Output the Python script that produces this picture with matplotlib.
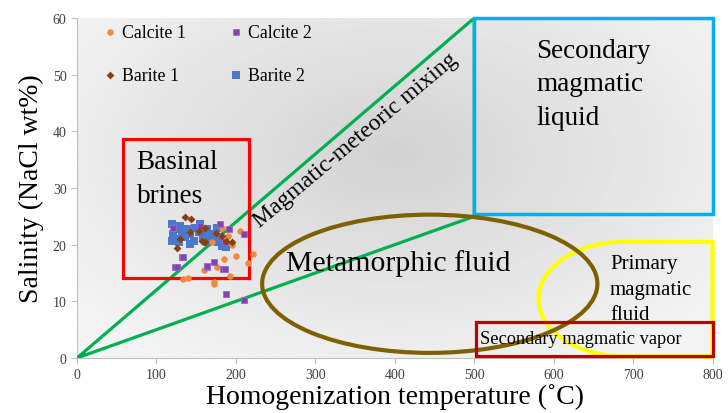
import numpy as np
import matplotlib
matplotlib.use("Agg")
import matplotlib.pyplot as plt
from matplotlib.patches import Rectangle, Ellipse, PathPatch
from matplotlib.path import Path

plt.rcParams['font.family'] = ['Liberation Serif', 'DejaVu Serif']

# ---- data (homogenization temperature, salinity) ----
calcite1_T = [134, 172, 193, 222, 176, 185, 195, 205, 190, 170, 215, 160, 140, 200, 182, 172]
calcite1_S = [13.9, 13.1, 14.5, 18.3, 16.0, 17.5, 20.0, 22.5, 21.5, 20.5, 16.8, 15.5, 14.2, 18.0, 23.0, 13.4]

calcite2_T = [121, 155, 180, 191, 210, 132, 123, 163, 172, 184, 126, 164, 186, 133, 186, 188, 210]
calcite2_S = [23.0, 23.3, 23.6, 22.8, 21.9, 17.8, 16.0, 16.0, 16.9, 15.7, 16.0, 16.3, 15.7, 17.8, 20.4, 11.3, 10.2]

barite1_T = [136, 144, 161, 153, 157, 188, 195, 126, 142, 161, 130, 175, 183]
barite1_S = [24.8, 24.5, 23.0, 22.5, 20.7, 20.7, 20.4, 19.5, 22.2, 20.4, 21.0, 22.0, 21.5]

barite2_T = [119, 123, 121, 126, 130, 132, 136, 138, 142, 147, 149, 153, 155, 159, 163, 168,
             172, 176, 178, 182, 119, 128, 142, 163, 188, 178]
barite2_S = [23.6, 22.8, 21.9, 21.0, 23.3, 22.2, 21.3, 22.8, 21.9, 20.7, 23.0, 22.2, 23.6, 21.3,
             22.8, 21.9, 20.7, 23.0, 20.4, 19.8, 20.7, 20.4, 20.1, 20.4, 19.6, 21.3]

series_labels = ["Calcite 1", "Calcite 2", "Barite 1", "Barite 2"]

x_ticks = [0, 100, 200, 300, 400, 500, 600, 700, 800]
y_ticks = [0, 10, 20, 30, 40, 50, 60]

# ---- figure ----
fig = plt.figure(figsize=(7.28, 4.14), dpi=100)
ax = fig.add_axes([0.1058, 0.1329, 0.873, 0.8211])
ax.set_xlim(0, 800)
ax.set_ylim(0, 60)

# radial gray gradient background
gx, gy = np.meshgrid(np.linspace(-1, 1, 300), np.linspace(-1, 1, 200))
r = np.sqrt(((gx) / 1.0) ** 2 + ((gy - 0.2) / 1.1) ** 2)
bg = 0.825 + 0.10 * np.clip(r, 0, 1.3)
ax.imshow(bg, extent=[0, 800, 0, 60], origin='lower', aspect='auto', cmap='gray',
          vmin=0, vmax=1, zorder=0)

# region outlines
green = '#00B050'
ax.plot([0, 500, 500, 0], [0, 60, 25, 0], color=green, lw=2.3, zorder=3, solid_joinstyle='miter')
ax.add_patch(Rectangle((500, 25.5), 300, 34.5, fill=False, ec='#00B0F0', lw=2.5, zorder=3, clip_on=False))
ax.add_patch(Rectangle((58, 14.1), 158, 24.6, fill=False, ec='#FF0000', lw=2.3, zorder=3))
# yellow rounded shape (primary magmatic fluid)
th = np.linspace(np.pi / 2, 3 * np.pi / 2, 80)
yx = list(688 + 107 * np.cos(th)) + [800, 800]
yy = list(10.4 + 10.1 * np.sin(th)) + [0.3, 20.5]
verts = list(zip(yx, yy)) + [(yx[0], yy[0])]
codes = [Path.MOVETO] + [Path.LINETO] * (len(verts) - 2) + [Path.CLOSEPOLY]
ax.add_patch(PathPatch(Path(verts, codes), fill=False, ec='#FFFF00', lw=3, zorder=3, clip_on=False))
ax.add_patch(Ellipse((444, 13.1), 422, 24.4, fill=False, ec='#7F6000', lw=3, zorder=3))
ax.add_patch(Rectangle((502, 0.3), 298, 6.1, fill=False, ec='#C00000', lw=2.3, zorder=3, clip_on=False))

# data
h_c1 = ax.scatter(calcite1_T, calcite1_S, marker='o', s=22, color='#F08A3C', lw=0, zorder=5, label=series_labels[0])
h_c2 = ax.scatter(calcite2_T, calcite2_S, marker='s', s=22, color='#7E45B0', edgecolors='#9B6AC8', lw=0.6, zorder=5, label=series_labels[1])
h_b1 = ax.scatter(barite1_T, barite1_S, marker='D', s=16, color='#8B3E0F', lw=0, zorder=6, label=series_labels[2])
h_b2 = ax.scatter(barite2_T, barite2_S, marker='s', s=26, color='#4A78CC', lw=0, zorder=4, label=series_labels[3])

# region labels
ax.text(75, 36.9, "Basinal\nbrines", fontsize=19.5, va='top', ha='left', linespacing=1.5, zorder=7)
ax.text(578, 56.5, "Secondary\nmagmatic\nliquid", fontsize=19.5, va='top', ha='left', linespacing=1.45, zorder=7)
ax.text(404, 16.8, "Metamorphic fluid", fontsize=21.5, va='center', ha='center', zorder=7)
ax.text(671, 18.3, "Primary\nmagmatic\nfluid", fontsize=15, va='top', ha='left', linespacing=1.45, zorder=7)
ax.text(507, 3.4, "Secondary magmatic vapor", fontsize=13.2, va='center', ha='left', zorder=7)
ax.text(351, 38.5, "Magmatic-meteoric mixing", fontsize=17, rotation=40,
        rotation_mode='anchor', va='center', ha='center', zorder=7)

# axes styling
for s in ['top', 'right']:
    ax.spines[s].set_visible(False)
for s in ['left', 'bottom']:
    ax.spines[s].set_color('#BFBFBF')
    ax.spines[s].set_linewidth(0.8)
ax.set_xticks(x_ticks)
ax.set_yticks(y_ticks)
ax.tick_params(colors='#BFBFBF', labelcolor='#404040', labelsize=10, length=4, width=0.8)
ax.set_xlabel("Homogenization temperature (˚C)", fontsize=20, labelpad=1)
ax.set_ylabel("Salinity (NaCl wt%)", fontsize=20, labelpad=6)

leg = ax.legend([h_c1, h_b1, h_c2, h_b2],
                [series_labels[0], series_labels[2], series_labels[1], series_labels[3]],
                loc='upper left', bbox_to_anchor=(0.034, 1.004), ncol=2, frameon=False,
                fontsize=12.8, handlelength=0.5, handletextpad=0.4, columnspacing=2.6,
                labelspacing=1.45, borderaxespad=0, scatterpoints=1)

fig.savefig("out.png", dpi=100)
